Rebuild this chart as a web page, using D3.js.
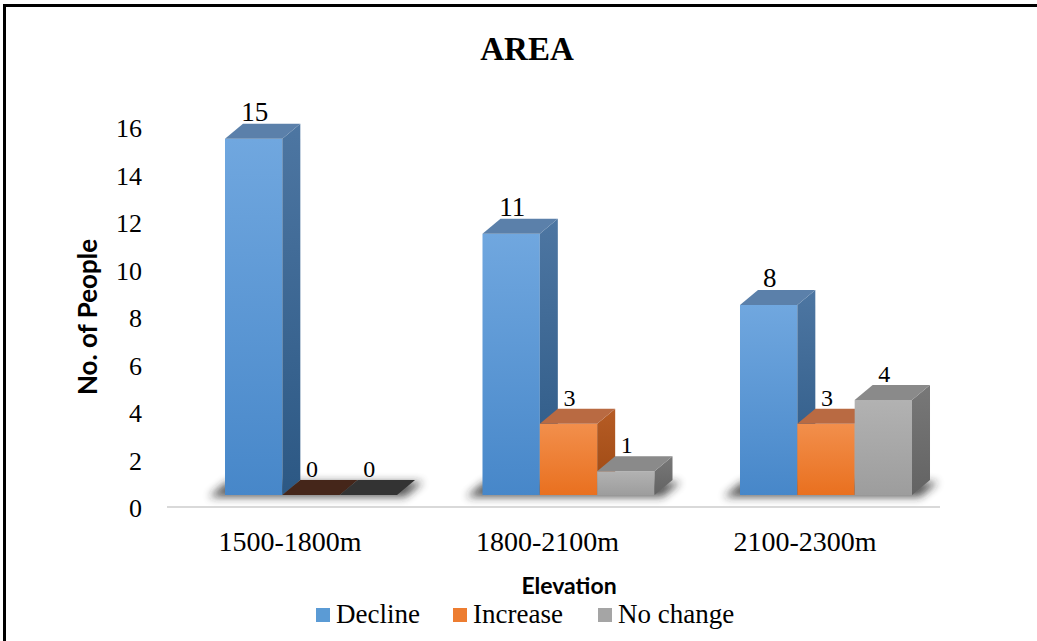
<!DOCTYPE html>
<html>
<head>
<meta charset="utf-8">
<script src="https://cdn.jsdelivr.net/npm/d3@7"></script>
<style>
  html, body { margin: 0; padding: 0; background: #fff; }
  svg { display: block; }
</style>
</head>
<body>
<svg id="chart" width="1037" height="641"></svg>
<script>
// Survey counts by elevation band
const categories = ["1500-1800m", "1800-2100m", "2100-2300m"];
const series = ["Decline", "Increase", "No change"];
const decline = [15, 11, 8];
const increase = [0, 3, 3];
const noChange = [0, 1, 4];
const yTicks = [0, 2, 4, 6, 8, 10, 12, 14, 16];

const values = [decline, increase, noChange];

const svg = d3.select("#chart");
const W = 1037, H = 641;
const serif = "'Liberation Serif', 'Times New Roman', serif";
const sans = "Lato, 'Open Sans', sans-serif";

// face colours for each series: front gradient (top, bottom), side gradient, top face, flat (zero) face
const palette = {
  "Decline":   { front: ["#70a7df", "#4787c9"], side: ["#4d76a2", "#2c5884"], top: "#5b80aa", flat: "#2a4a6a", legend: "#5b9bd5" },
  "Increase":  { front: ["#f28f4c", "#e9701f"], side: ["#b65c25", "#9c4812"], top: "#b96a42", flat: "#45261a", legend: "#ed7d31" },
  "No change": { front: ["#b2b2b2", "#9d9d9d"], side: ["#787878", "#636363"], top: "#8a8a8a", flat: "#333333", legend: "#a5a5a5" }
};

const defs = svg.append("defs");
series.forEach((s, i) => {
  const p = palette[s];
  const gf = defs.append("linearGradient").attr("id", "front" + i)
    .attr("x1", 0).attr("y1", 0).attr("x2", 0).attr("y2", 1);
  gf.append("stop").attr("offset", "0%").attr("stop-color", p.front[0]);
  gf.append("stop").attr("offset", "100%").attr("stop-color", p.front[1]);
  const gs = defs.append("linearGradient").attr("id", "side" + i)
    .attr("x1", 0).attr("y1", 0).attr("x2", 0).attr("y2", 1);
  gs.append("stop").attr("offset", "0%").attr("stop-color", p.side[0]);
  gs.append("stop").attr("offset", "100%").attr("stop-color", p.side[1]);
});
defs.append("filter").attr("id", "soft").attr("x", "-20%").attr("y", "-100%")
  .attr("width", "140%").attr("height", "300%")
  .append("feGaussianBlur").attr("stdDeviation", 4);

// frame
svg.append("rect").attr("x", 4.5).attr("y", 5.5).attr("width", W + 20).attr("height", H + 20)
  .attr("fill", "none").attr("stroke", "#000").attr("stroke-width", 3);

// title
svg.append("text").attr("x", 527).attr("y", 60).attr("text-anchor", "middle")
  .attr("font-family", serif)
  .attr("font-weight", "bold").attr("font-size", 33).text("AREA");

// scales
const x = d3.scaleBand().domain(categories).range([182.25, 954.75])
  .paddingInner(0.332).paddingOuter(0.166);
const xs = d3.scaleBand().domain(series).range([0, x.bandwidth()]).padding(0);
const y = d3.scaleLinear().domain([0, 16]).range([495, 115]);
const depth = { dx: 18, dy: -15 };
const axisDrop = 13;

// y axis on the back wall
const yAxis = d3.axisLeft(y).tickValues(yTicks).tickSize(0).tickPadding(0);
const gy = svg.append("g").attr("transform", `translate(142,${axisDrop})`).call(yAxis);
gy.select(".domain").remove();
gy.selectAll("text")
  .attr("font-family", serif)
  .attr("font-size", 26).attr("fill", "#000").attr("dy", "0.34em");

// floor line
svg.append("line").attr("x1", 167).attr("x2", 940)
  .attr("y1", y(0) + axisDrop - 1).attr("y2", y(0) + axisDrop - 1)
  .attr("stroke", "#d9d9d9").attr("stroke-width", 2);

// category labels
svg.append("g").selectAll("text").data(categories).join("text")
  .attr("x", d => x(d) + x.bandwidth() / 2 - 21)
  .attr("y", 551)
  .attr("text-anchor", "middle")
  .attr("font-family", serif)
  .attr("font-size", 28).text(d => d);

// soft floor shadows under each group
svg.append("g").selectAll("path").data(categories).join("path")
  .attr("d", d => {
    const x0 = x(d) - 16, x1 = x(d) + x.bandwidth() + 8;
    const b = y(0) + 2;
    return `M${x0},${b} L${x0 + depth.dx},${b + depth.dy} L${x1 + depth.dx},${b + depth.dy} L${x1},${b} Z`;
  })
  .attr("fill", "#222").attr("opacity", 0.75).attr("filter", "url(#soft)");

// 3D bars
const bars = [];
categories.forEach((c, ci) => {
  series.forEach((s, si) => {
    bars.push({ cat: c, ser: s, si, value: values[si][ci] });
  });
});

const gBars = svg.append("g");
bars.forEach(b => {
  const p = palette[b.ser];
  const x0 = x(b.cat) + xs(b.ser);
  const x1 = x0 + xs.bandwidth();
  const top = y(b.value), base = y(0);
  const { dx, dy } = depth;
  const g = gBars.append("g");
  if (b.value > 0) {
    g.append("rect").attr("x", x0).attr("y", top).attr("width", x1 - x0).attr("height", base - top)
      .attr("fill", `url(#front${b.si})`);
    g.append("path")
      .attr("d", `M${x1},${top} L${x1 + dx},${top + dy} L${x1 + dx},${base + dy} L${x1},${base} Z`)
      .attr("fill", `url(#side${b.si})`);
  }
  g.append("path")
    .attr("d", `M${x0},${top} L${x0 + dx},${top + dy} L${x1 + dx},${top + dy} L${x1},${top} Z`)
    .attr("fill", b.value > 0 ? p.top : p.flat);
  // value label above the back edge of the top face
  g.append("text")
    .attr("x", (x0 + x1) / 2 + 1)
    .attr("y", top + dy - 3)
    .attr("text-anchor", "middle")
    .attr("font-family", serif)
    .attr("font-size", b.value >= 5 ? 27 : 24)
    .text(b.value);
});

// axis titles
svg.append("text")
  .attr("transform", "translate(97,317) rotate(-90)")
  .attr("text-anchor", "middle")
  .attr("font-family", sans).attr("font-weight", "bold")
  .attr("font-size", 26).text("No. of People");

svg.append("text").attr("x", 569).attr("y", 594).attr("text-anchor", "middle")
  .attr("font-family", sans).attr("font-weight", "bold")
  .attr("font-size", 23).text("Elevation");

// legend
const legendX = [316, 453, 598];
const lg = svg.append("g").selectAll("g").data(series).join("g")
  .attr("transform", (d, i) => `translate(${legendX[i]},608)`);
lg.append("rect").attr("width", 14).attr("height", 14).attr("fill", d => palette[d].legend);
lg.append("text").attr("x", 20).attr("y", 15)
  .attr("font-family", serif)
  .attr("font-size", 27).text(d => d);
</script>
</body>
</html>
